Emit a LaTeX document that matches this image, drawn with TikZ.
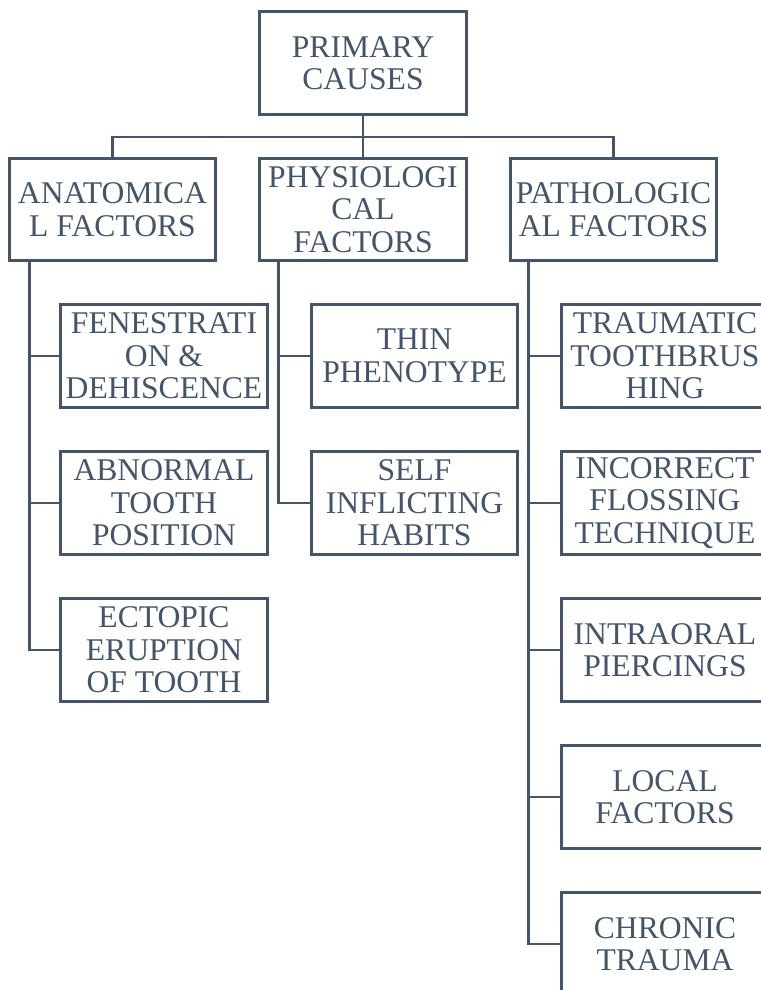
\documentclass[tikz,border=0pt]{standalone}
\usepackage{fontspec}
\setmainfont{Liberation Serif}
\usepackage{xcolor}
\usetikzlibrary{positioning,calc}
\definecolor{SlateColor}{RGB}{68,84,106}

\begin{document}
\begin{tikzpicture}[x=0.75pt, y=-0.75pt,
    box/.style={draw=SlateColor, line width=2.2pt, minimum width=155pt, minimum height=77pt,
      inner sep=0pt, align=center, text=SlateColor, font=\fontsize{23.7}{24.4}\selectfont},
    link/.style={draw=SlateColor, line width=2.2pt}]
      \useasboundingbox (0,0) rectangle (761,990);
      \clip (0,0) rectangle (761,990);
      % top level
      \node[box] (primary) at (363,63) {PRIMARY\\CAUSES};
      \node[box] (ana) at (112.5,209.5) {ANATOMICA\\L FACTORS};
      \node[box] (physio) at (363,209.5) {PHYSIOLOGI\\CAL\\FACTORS};
      \node[box] (patho) at (613.5,209.5) {PATHOLOGIC\\AL FACTORS};
      % anatomical
      \node[box] (fen) at (164,356) {FENESTRATI\\ON \&\\DEHISCENCE};
      \node[box] (abn) at (164,503) {ABNORMAL\\TOOTH\\POSITION};
      \node[box] (ecto) at (164,650) {ECTOPIC\\ERUPTION\\OF TOOTH};
      % physiological
      \node[box] (thin) at (414.5,356) {THIN\\PHENOTYPE};
      \node[box] (self) at (414.5,503) {SELF\\INFLICTING\\HABITS};
      % pathological
      \node[box] (brush) at (665,356) {TRAUMATIC\\TOOTHBRUS\\HING};
      \node[box] (floss) at (665,503) {INCORRECT\\FLOSSING\\TECHNIQUE};
      \node[box] (pierce) at (665,650) {INTRAORAL\\PIERCINGS};
      \node[box] (local) at (665,797) {LOCAL\\FACTORS};
      \node[box] (chronic) at (665,944) {CHRONIC\\TRAUMA};
      % connectors
      \coordinate (bus) at (363,137);
      \draw[link] (primary.south) -- (bus) -- (physio.north);
      \draw[link] (ana.north) |- (bus) -| (patho.north);
      \foreach \n in {fen,abn,ecto} \draw[link] ([xshift=16.5pt]ana.south west) |- (\n.west);
      \foreach \n in {thin,self} \draw[link] ([xshift=15.5pt]physio.south west) |- (\n.west);
      \foreach \n in {brush,floss,pierce,local,chronic} \draw[link] ([xshift=15pt]patho.south west) |- (\n.west);
    \end{tikzpicture}
\end{document}
